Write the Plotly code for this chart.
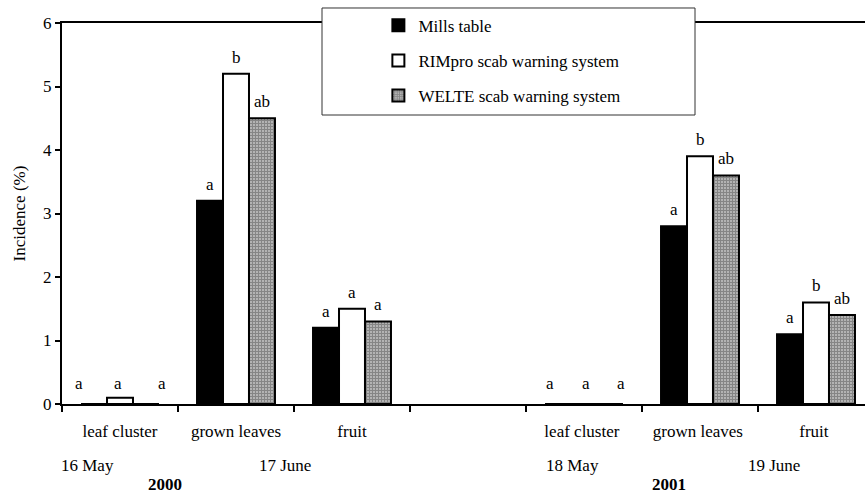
import plotly.graph_objects as go

# ---- data ----
categories = ["leaf cluster", "grown leaves", "fruit", " ",
              "leaf cluster ", "grown leaves ", "fruit "]
mills = [0, 3.2, 1.2, None, 0, 2.8, 1.1]
rimpro = [0.1, 5.2, 1.5, None, 0, 3.9, 1.6]
welte = [0, 4.5, 1.3, None, 0, 3.6, 1.4]
letters_mills = ["a", "a", "a", "", "a", "a", "a"]
letters_rimpro = ["a", "b", "a", "", "a", "b", "b"]
letters_welte = ["a", "ab", "a", "", "a", "ab", "ab"]
series_names = ["Mills table", "RIMpro scab warning system", "WELTE scab warning system"]
dates = ["16 May", "17 June", "18 May", "19 June"]
years = ["2000", "2001"]
y_ticks = [0, 1, 2, 3, 4, 5, 6]

FONT = "Liberation Serif"
FS = 17

fig = go.Figure()
fig.add_bar(x=categories, y=mills, name=series_names[0], legendgroup="g1",
            marker=dict(color="black", line=dict(color="black", width=2)))
fig.add_bar(x=categories, y=rimpro, name=series_names[1], legendgroup="g2",
            marker=dict(color="white", line=dict(color="black", width=2)))
fig.add_bar(x=categories, y=welte, name=series_names[2], legendgroup="g3",
            marker=dict(color="#bbbbbb", line=dict(color="black", width=2),
                        pattern=dict(shape="+", size=3, solidity=0.8,
                                     fgcolor="#2a2a2a", bgcolor="#e0e0e0")))

annotations = []
bar_px = [-26, 0, 26]
for i, cat in enumerate(categories):
    for k, (vals, labs) in enumerate([(mills, letters_mills), (rimpro, letters_rimpro),
                                      (welte, letters_welte)]):
        if vals[i] is None or not labs[i]:
            continue
        if i in (0, 4):
            shifts = [-41, -2, 42] if i == 0 else [-34, 2, 37]
            xs = shifts[k]
            ys = 9
            yv = 0
        else:
            xs = bar_px[k]
            ys = 5
            yv = vals[i]
        annotations.append(dict(x=i, y=yv, xref="x", yref="y", text=labs[i],
                                showarrow=False, xshift=xs, yshift=ys,
                                yanchor="bottom", font=dict(family=FONT, size=FS, color="black")))

date_x = [-0.276, 1.422, 3.905, 5.638]
for d, xv in zip(dates, date_x):
    annotations.append(dict(x=xv, y=0, xref="x", yref="paper", text=d, showarrow=False,
                            yshift=-61, yanchor="middle",
                            font=dict(family=FONT, size=FS, color="black")))
year_x = [0.388, 4.733]
for yr, xv in zip(years, year_x):
    annotations.append(dict(x=xv, y=0, xref="x", yref="paper", text="<b>" + yr + "</b>",
                            showarrow=False, yshift=-80, yanchor="middle", borderpad=0,
                            font=dict(family=FONT, size=FS, color="black")))

fig.update_layout(
    width=865, height=495,
    margin=dict(l=62, r=0, t=23, b=91),
    paper_bgcolor="white", plot_bgcolor="white",
    font=dict(family=FONT, size=FS, color="black"),
    barmode="group", bargap=0.328, bargroupgap=0,
    showlegend=True,
    legend=dict(x=0.394, y=1.04, xanchor="left", yanchor="top",
                bgcolor="rgba(0,0,0,0)", borderwidth=0, tracegroupgap=10,
                font=dict(family=FONT, size=FS, color="black")),
    annotations=annotations,
    shapes=[dict(type="rect", xref="paper", yref="paper",
                 x0=0.3238, x1=0.7883, y0=0.7585, y1=1.0394,
                 fillcolor="white", line=dict(color="#333333", width=1), layer="above")],
)
fig.update_xaxes(type="category", categoryorder="array", categoryarray=categories,
                 range=[-0.5, 6.4224], tickson="boundaries", ticks="outside", ticklen=6,
                 tickwidth=1.5, tickcolor="black", showline=True, linecolor="black",
                 linewidth=2, mirror=True, showgrid=False, ticklabelstandoff=11,
                 tickfont=dict(family=FONT, size=FS, color="black"))
fig.update_yaxes(range=[0, 6], tickvals=y_ticks, ticks="outside", ticklen=5, tickwidth=1.5,
                 tickcolor="black", showline=True, linecolor="black", linewidth=2,
                 showgrid=False, zeroline=False,
                 title=dict(text="Incidence (%)", standoff=13,
                            font=dict(family=FONT, size=FS, color="black")),
                 tickfont=dict(family=FONT, size=FS, color="black"))

fig.write_html("out.html")
